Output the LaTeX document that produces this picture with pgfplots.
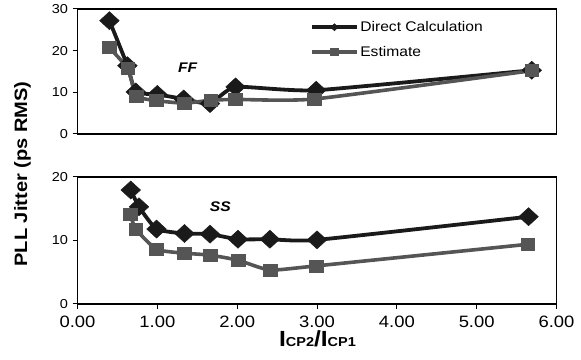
\documentclass[border=0pt]{standalone}
\usepackage{fontspec}
\setmainfont{Liberation Sans}[FakeStretch=1.12]
\usepackage{pgfplots}
\pgfplotsset{compat=1.18}
\definecolor{dc}{RGB}{26,26,26}
\definecolor{est}{RGB}{85,85,85}
\pgfplotsset{
  jit/.style={
    scale only axis, width=479bp,
    xmin=0, xmax=6, ymin=0,
    axis line style={black, line width=1.2bp},
    tick style={black, line width=1bp},
    major tick length=5bp, tick align=outside,
    xtick pos=bottom, ytick pos=left,
    /pgf/number format/assume math mode=true,
    yticklabel style={font=\fontsize{13}{14}\selectfont, xshift=-1bp},
    xticklabel style={font=\fontsize{16.5}{18}\selectfont, yshift=-4bp},
    clip=false,
    legend image code/.code={\draw[#1, mark repeat=2, mark phase=2, mark size=3.5bp] plot coordinates {(0bp,0bp) (22.5bp,0bp) (45bp,0bp)};},
  },
  dcs/.style={dc, line width=3.8bp, smooth, tension=0.3, mark=diamond*, mark size=9bp, mark options={solid, xscale=1.45, line width=0.5bp, fill=dc}},
  ests/.style={est, line width=3.6bp, smooth, tension=0.3, mark=square*, mark size=6bp, mark options={solid, xscale=1.15, line width=0.5bp, fill=est}},
}
\begin{document}
\begin{tikzpicture}
\useasboundingbox (0,0) rectangle (581bp,360bp);
% top axis (FF)
\begin{axis}[jit, at={(77.5bp,226bp)}, anchor=south west, height=125bp,
  ymax=30, ytick={0,10,20,30}, xtick=\empty,
  legend style={draw=none, fill=none, at={(0.485,0.91)}, anchor=north west,
    font=\fontsize{14}{15}\selectfont, inner sep=0pt, row sep=11bp,
    nodes={inner xsep=1.5bp, inner ysep=1bp}},
  legend cell align=left]
\addplot[dcs] coordinates {(0.40,27.2) (0.625,16.4) (0.73,10.1) (1.0,9.5) (1.33,8.4) (1.66,7.3) (1.98,11.3) (2.99,10.5) (5.69,15.3)};
\addlegendentry{Direct Calculation}
\addplot[ests] coordinates {(0.40,20.7) (0.63,15.7) (0.74,9.1) (0.99,8.0) (1.34,7.4) (1.67,8.1) (1.98,8.3) (2.97,8.4) (5.69,15.2)};
\addlegendentry{Estimate}
\node[font=\bfseries\itshape\fontsize{14}{15}\selectfont] at (axis cs:1.38,16) {FF};
\end{axis}
% bottom axis (SS)
\begin{axis}[jit, at={(77.5bp,56bp)}, anchor=south west, height=127bp,
  ymax=20, ytick={0,10,20}, xtick={0,1,2,3,4,5,6},
  xticklabel={\pgfmathprintnumber[fixed, fixed zerofill, precision=2]{\tick}}]
\addplot[dcs] coordinates {(0.667,17.95) (0.77,15.3) (0.99,11.8) (1.34,11.1) (1.66,11.0) (2.01,10.2) (2.41,10.2) (3.0,10.1) (5.65,13.75)};
\addplot[ests] coordinates {(0.66,14.2) (0.73,11.8) (0.99,8.6) (1.34,8.0) (1.66,7.7) (2.01,6.9) (2.41,5.35) (2.99,6.0) (5.64,9.4)};
\node[font=\bfseries\itshape\fontsize{14}{15}\selectfont] at (axis cs:1.79,15.3) {SS};
\end{axis}
\node[rotate=90, font=\bfseries\fontsize{18}{20}\selectfont] at (22.5bp,186bp) {PLL Jitter (ps RMS)};
\node[anchor=base, font=\bfseries\fontsize{22}{24}\selectfont, inner sep=0pt] at (317.5bp,13.3bp) {I{\fontsize{13}{14}\selectfont CP2}/I{\fontsize{13}{14}\selectfont CP1}};
\end{tikzpicture}
\end{document}
